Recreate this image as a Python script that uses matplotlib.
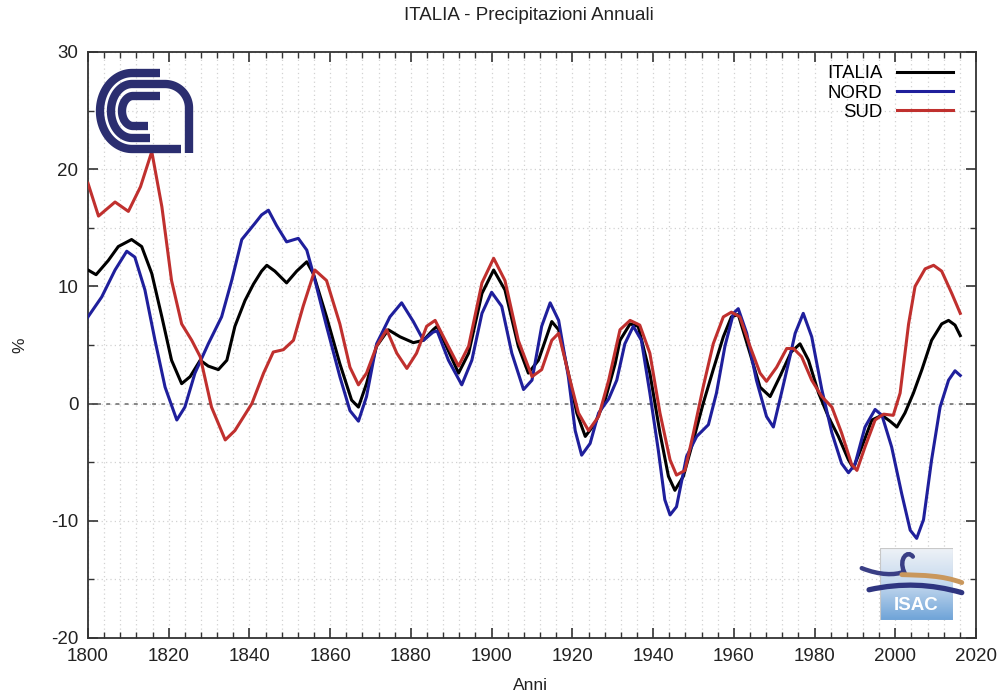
import numpy as np
import matplotlib
matplotlib.use("Agg")
import matplotlib.pyplot as plt
from matplotlib.patches import Rectangle, PathPatch
from matplotlib.path import Path
from matplotlib.ticker import MultipleLocator

plt.rcParams['font.family'] = ['Liberation Sans', 'DejaVu Sans']
plt.rcParams['axes.unicode_minus'] = False

# ---- data (year, % anomaly) ----
italia_years = [1800, 1802, 1805, 1807.5, 1810.8, 1813.3, 1815.8, 1818.3, 1820.7, 1823.2,
                1825.3, 1827.8, 1829.8, 1832.3, 1834.4, 1836.4, 1838.9, 1841, 1843, 1844.3,
                1846.3, 1849.2, 1851.7, 1854.2, 1855.8, 1859.1, 1862.4, 1865.3, 1867, 1869,
                1871.5, 1874.4, 1877.3, 1880.6, 1883.1, 1885.5, 1886.5, 1888.5, 1891.8, 1894.3,
                1897.6, 1900.5, 1903.3, 1906.6, 1909.1, 1911.6, 1914.9, 1916.6, 1919, 1921.1,
                1923.2, 1925.6, 1928.1, 1930.6, 1931.8, 1934.3, 1936.3, 1939.2, 1941.7, 1943.8,
                1945.4, 1947.5, 1950, 1952.4, 1954.9, 1957.4, 1959.4, 1961.1, 1964, 1966.5,
                1969, 1971.4, 1974.2, 1976.4, 1978.5, 1981, 1983.4, 1985.9, 1988.4, 1989.6,
                1991.7, 1994.2, 1996.7, 1998.7, 2000.4, 2002.4, 2004.5, 2006.6, 2009, 2011.5,
                2013.2, 2014.8, 2016.1]
italia_vals = [11.4, 11.0, 12.2, 13.4, 14.0, 13.4, 11.1, 7.4, 3.7, 1.7,
               2.3, 3.7, 3.2, 2.9, 3.7, 6.6, 8.8, 10.2, 11.3, 11.8,
               11.3, 10.3, 11.3, 12.1, 11.1, 7.4, 3.4, 0.3, -0.3, 1.7,
               4.9, 6.3, 5.7, 5.2, 5.4, 6.3, 6.6, 5.1, 2.6, 4.3,
               9.4, 11.4, 9.7, 4.9, 2.6, 3.7, 7.0, 6.3, 2.6, -0.8,
               -2.8, -1.7, 0.3, 3.4, 5.4, 6.8, 6.6, 2.6, -2.5, -6.2,
               -7.4, -6.2, -3.1, 0.0, 2.9, 5.7, 7.4, 7.6, 4.3, 1.4,
               0.6, 2.3, 4.4, 5.1, 3.7, 0.9, -1.1, -2.8, -4.8, -5.5,
               -3.7, -1.4, -1.0, -1.5, -2.0, -0.8, 0.9, 2.9, 5.4, 6.8,
               7.1, 6.7, 5.8]

nord_years = [1800, 1803.4, 1806.7, 1809.6, 1811.6, 1814.1, 1816.6, 1819.1, 1822, 1824,
              1826.5, 1829.8, 1833.1, 1835.6, 1838.1, 1841.4, 1843, 1844.7, 1846.7, 1849.2,
              1852.1, 1854.2, 1855.8, 1859.1, 1862.4, 1864.9, 1867, 1869, 1871.5, 1874.8,
              1877.7, 1880.6, 1883.1, 1885.5, 1886.5, 1889.3, 1892.6, 1895.1, 1897.6, 1900,
              1902.5, 1905, 1907.9, 1910, 1912.4, 1914.5, 1916.6, 1919, 1920.7, 1922.3,
              1924.4, 1926.5, 1929, 1931, 1933, 1935.1, 1937.1, 1939.2, 1941.3, 1942.9,
              1944.2, 1945.8, 1948.3, 1950.8, 1953.7, 1955.7, 1957.8, 1959.9, 1961.1, 1963.2,
              1965.6, 1968.1, 1969.8, 1971.8, 1973.9, 1975.2, 1977.2, 1979.3, 1981.8, 1984.3,
              1986.7, 1988.4, 1990, 1992.5, 1995, 1996.7, 1999.1, 2001.6, 2003.7, 2005.3,
              2007, 2009, 2011.1, 2013.2, 2014.8, 2016.1]
nord_vals = [7.4, 9.1, 11.4, 13.0, 12.5, 9.7, 5.4, 1.4, -1.4, -0.3,
             2.6, 5.1, 7.4, 10.5, 14.0, 15.4, 16.1, 16.5, 15.2, 13.8,
             14.1, 13.1, 11.1, 6.6, 2.3, -0.6, -1.5, 0.6, 5.1, 7.4,
             8.6, 7.0, 5.4, 6.1, 6.2, 3.7, 1.6, 3.7, 7.7, 9.5,
             8.3, 4.3, 1.2, 2.0, 6.6, 8.6, 7.1, 2.3, -2.3, -4.4,
             -3.4, -0.8, 0.4, 2.0, 5.1, 6.6, 5.4, 0.9, -4.0, -8.2,
             -9.5, -8.8, -4.5, -2.8, -1.8, 0.9, 4.9, 7.7, 8.1, 6.0,
             2.0, -1.1, -2.0, 0.9, 4.0, 6.0, 7.7, 5.7, 1.2, -2.5,
             -5.1, -5.9, -5.2, -2.0, -0.5, -1.0, -3.7, -7.7, -10.8, -11.5,
             -9.9, -4.8, -0.3, 2.0, 2.8, 2.4]

sud_years = [1800, 1802.6, 1806.7, 1810, 1813, 1815.8, 1818.3, 1820.7, 1823.2, 1825.7,
             1827.8, 1830.6, 1834, 1836.4, 1840.6, 1843.5, 1845.9, 1848.4, 1850.9, 1853.3,
             1856.2, 1859.1, 1862.4, 1864.9, 1867, 1869, 1871.5, 1874, 1876.5, 1879,
             1881.4, 1883.9, 1886, 1888.5, 1891.8, 1894.3, 1897.6, 1900.5, 1903.3, 1906.6,
             1910, 1912.4, 1914.9, 1916.6, 1919, 1921.5, 1924, 1926.5, 1929, 1931.8,
             1934.3, 1936.7, 1939.2, 1941.7, 1944.2, 1945.8, 1947.9, 1950, 1952.4, 1954.9,
             1957.4, 1959.4, 1961.5, 1964, 1966.5, 1968.1, 1970.6, 1973.1, 1974.8, 1976.8,
             1979.3, 1981.8, 1984.3, 1986.7, 1989.2, 1990.5, 1992.5, 1995, 1997.1, 1999.5,
             2001.2, 2003.3, 2004.9, 2007.4, 2009.5, 2011.5, 2014, 2016.1]
sud_vals = [18.8, 16.0, 17.2, 16.4, 18.5, 21.5, 16.8, 10.5, 6.8, 5.4,
            4.0, -0.3, -3.1, -2.3, 0.0, 2.6, 4.4, 4.6, 5.4, 8.3,
            11.4, 10.5, 6.8, 3.1, 1.6, 2.6, 4.9, 6.3, 4.3, 3.0,
            4.3, 6.6, 7.1, 5.4, 3.2, 4.9, 10.3, 12.4, 10.5, 5.4,
            2.3, 2.9, 5.4, 6.0, 2.6, -0.8, -2.3, -1.1, 2.0, 6.3,
            7.1, 6.7, 4.3, -0.8, -4.8, -6.1, -5.7, -2.5, 1.4, 5.1,
            7.4, 7.8, 7.4, 4.9, 2.6, 1.9, 3.1, 4.7, 4.7, 4.0,
            2.0, 0.6, -0.3, -2.5, -5.2, -5.7, -3.7, -1.4, -0.9, -1.0,
            0.9, 6.8, 10.0, 11.5, 11.8, 11.3, 9.4, 7.7]

series_names = ['ITALIA', 'NORD', 'SUD']
series_colors = ['#000000', '#1f1f9c', '#c0302e']

W, H = 1003, 696
fig = plt.figure(figsize=(W / 100, H / 100), dpi=100)
ax = fig.add_axes([88 / W, 1 - 638 / H, 888 / W, 586 / H])

# grid (gnuplot-like dotted)
ax.xaxis.set_major_locator(MultipleLocator(20))
ax.xaxis.set_minor_locator(MultipleLocator(4))
ax.yaxis.set_major_locator(MultipleLocator(10))
ax.yaxis.set_minor_locator(MultipleLocator(5))
ax.grid(True, which='both', color='#d2d2d2', linestyle=(0, (1, 2.5)), linewidth=0.9)
ax.set_axisbelow(True)
ax.axhline(0, color='#666666', linestyle=(0, (2.5, 3.5)), linewidth=1.1, zorder=1)

for yrs, vals, name, col in zip([italia_years, nord_years, sud_years],
                                [italia_vals, nord_vals, sud_vals],
                                series_names, series_colors):
    ax.plot(yrs, vals, color=col, linewidth=2.2, label=name, zorder=3,
            solid_joinstyle='round')

ax.set_xlim(1800, 2020)
ax.set_ylim(-20, 30)
ax.tick_params(which='both', direction='in', top=True, right=True,
               labelsize=13.5, color='#333333', labelcolor='#222222', pad=7)
ax.tick_params(which='major', length=7, width=1.2)
ax.tick_params(which='minor', length=4, width=1.0)
for s in ax.spines.values():
    s.set_linewidth(1.3)
    s.set_color('#333333')

leg = ax.legend(loc='upper right', bbox_to_anchor=(0.982, 0.990), frameon=False,
                markerfirst=False, fontsize=13.4, handlelength=2.96, labelspacing=0.12,
                borderaxespad=0.0, handletextpad=0.8)

fig.text(0.527, 1 - 15 / H, 'ITALIA - Precipitazioni Annuali', ha='center', va='center',
         fontsize=13.5, color='#222222')
fig.text(0.529, 1 - 685 / H, 'Anni', ha='center', va='center', fontsize=12.5,
         color='#222222')
fig.text(20 / W, 1 - 345 / H, '%', ha='center', va='center', fontsize=12.5, rotation=90,
         color='#222222')

# ---- CNR logo (approximation, pixel coords of the figure) ----
navy = '#2b2e70'
lax = fig.add_axes([92 / W, 1 - 158 / H, 110 / W, 94 / H])
lax.set_xlim(92, 202)
lax.set_ylim(158, 64)
lax.axis('off')
lw = 6.0
t = np.linspace(np.pi / 2, 3 * np.pi / 2, 60)
# outer C
xs = np.concatenate([[160], 132 + 32 * np.cos(t), [181]])
ys = np.concatenate([[73], 111 - 38 * np.sin(t), [149]])
lax.plot(xs, ys, color=navy, lw=lw, solid_capstyle='butt')
# middle band: C on the left turning into the arch on the right
ta = np.linspace(np.pi / 2, 0, 40)
xs = np.concatenate([[150], 132 + 21 * np.cos(t[::-1]), [165], 165 + 24 * np.cos(ta), [189]])
ys = np.concatenate([[138], 111 - 27 * np.sin(t[::-1]), [84], 108 - 24 * np.sin(ta), [153]])
lax.plot(xs, ys, color=navy, lw=lw, solid_capstyle='butt')
# inner C
xs = np.concatenate([[160], 133 + 11 * np.cos(t), [148]])
ys = np.concatenate([[96], 111 - 15 * np.sin(t), [126]])
lax.plot(xs, ys, color=navy, lw=lw, solid_capstyle='butt')

# ---- ISAC logo (approximation) ----
iax = fig.add_axes([880 / W, 1 - 620 / H, 73 / W, 72 / H])
grad = np.linspace(0, 1, 100).reshape(-1, 1)
iax.imshow(grad, extent=[0, 1, 0, 1], aspect='auto', origin='upper',
           cmap=matplotlib.colors.LinearSegmentedColormap.from_list(
               'isac', ['#eef2f7', '#c4d8ee', '#6fa4d8']))
iax.set_xlim(0, 1)
iax.set_ylim(0, 1)
iax.axis('off')
iax.add_patch(Rectangle((0, 0), 1, 1, fill=False, edgecolor='#c8c8c8', lw=0.8))
iax.text(0.5, 0.2, 'ISAC', color='white', ha='center', va='center',
         fontsize=13.5, fontweight='bold')
# swooshes, in box units (x: 0..1 -> 880..953 px, y: 0..1 -> 620..548 px)
upper = Path([(-0.25, 0.72), (0.0, 0.62), (0.2, 0.62), (0.33, 0.67),
              (0.25, 0.85), (0.38, 0.98), (0.45, 0.88)],
             [Path.MOVETO, Path.CURVE4, Path.CURVE4, Path.CURVE4,
              Path.CURVE4, Path.CURVE4, Path.CURVE4])
iax.add_patch(PathPatch(upper, fill=False, edgecolor='#3a3f85', lw=3.2, clip_on=False,
                        capstyle='round'))
orange = Path([(0.3, 0.63), (0.6, 0.62), (0.85, 0.62), (1.12, 0.52)],
              [Path.MOVETO, Path.CURVE4, Path.CURVE4, Path.CURVE4])
iax.add_patch(PathPatch(orange, fill=False, edgecolor='#c9975c', lw=3.5, clip_on=False,
                        capstyle='round'))
lower = Path([(-0.15, 0.42), (0.3, 0.52), (0.7, 0.5), (1.12, 0.38)],
             [Path.MOVETO, Path.CURVE4, Path.CURVE4, Path.CURVE4])
iax.add_patch(PathPatch(lower, fill=False, edgecolor='#2f3580', lw=3.8, clip_on=False,
                        capstyle='round'))

fig.savefig('out.png', dpi=100)
